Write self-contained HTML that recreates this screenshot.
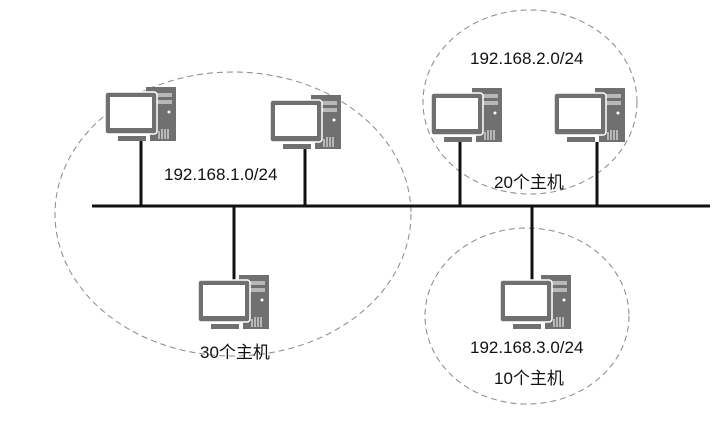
<!DOCTYPE html>
<html><head><meta charset="utf-8"><style>
html,body{margin:0;padding:0;background:#fff;width:719px;height:422px;overflow:hidden}
text{font-family:"Liberation Sans","Noto Sans CJK SC",sans-serif;font-size:17px;fill:#111}
</style></head><body>
<svg width="719" height="422" viewBox="0 0 719 422" xmlns="http://www.w3.org/2000/svg">
<defs>
<g id="pc">
<rect x="41" y="0" width="30" height="54" fill="#707070"/>
<rect x="45" y="6" width="22" height="4" fill="#fff" opacity="0.5"/>
<rect x="45" y="13" width="22" height="4" fill="#fff" opacity="0.5"/>
<circle cx="64" cy="25" r="1.5" fill="#fff"/>
<rect x="0" y="5" width="52" height="42" rx="3" fill="#707070"/>
<rect x="0" y="5" width="52" height="42" rx="3" fill="none" stroke="#fff" stroke-width="1.5"/>
<rect x="5" y="10" width="42" height="31" fill="#fff"/>
<rect x="13" y="49" width="30" height="5" fill="#707070"/>
<rect x="41" y="47" width="4" height="7" fill="#fff"/>
<g stroke="#fff" stroke-width="1"><line x1="54" y1="44" x2="54" y2="52"/><line x1="57" y1="42" x2="57" y2="52"/><line x1="60" y1="42" x2="60" y2="52"/><line x1="63" y1="42" x2="63" y2="52"/></g>
</g>
</defs>
<g fill="none" stroke="#888" stroke-width="1" stroke-dasharray="6,4">
<ellipse cx="233" cy="214" rx="178" ry="142"/>
<ellipse cx="530" cy="102" rx="107" ry="92"/>
<ellipse cx="527" cy="316" rx="102" ry="88"/>
</g>
<g stroke="#111" stroke-width="3">
<line x1="92" y1="206" x2="710" y2="206"/>
<line x1="141" y1="138" x2="141" y2="206"/>
<line x1="305" y1="146" x2="305" y2="206"/>
<line x1="234" y1="206" x2="234" y2="282"/>
<line x1="460" y1="138" x2="460" y2="206"/>
<line x1="597" y1="138" x2="597" y2="206"/>
<line x1="532" y1="206" x2="532" y2="285"/>
</g>
<use href="#pc" x="105" y="87"/>
<use href="#pc" x="270" y="95"/>
<use href="#pc" x="431" y="88"/>
<use href="#pc" x="554" y="88"/>
<use href="#pc" x="198" y="275"/>
<use href="#pc" x="500" y="275"/>
<text x="164" y="180">192.168.1.0/24</text>
<text x="470" y="64">192.168.2.0/24</text>
<text x="494" y="188">20个主机</text>
<text x="200" y="358">30个主机</text>
<text x="470" y="353">192.168.3.0/24</text>
<text x="494" y="384">10个主机</text>
</svg>
</body></html>
